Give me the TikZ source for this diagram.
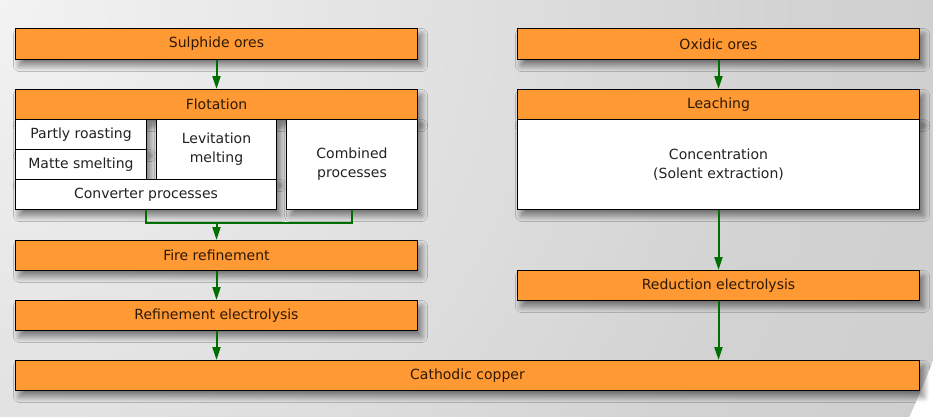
\documentclass[tikz,border=0pt]{standalone}
\usepackage{fontspec}
\setmainfont{DejaVu Sans}
\usetikzlibrary{shadows.blur,arrows.meta}
\definecolor{orng}{RGB}{255,153,51}
\definecolor{otxt}{RGB}{45,25,5}
\definecolor{wtxt}{RGB}{34,34,34}
\definecolor{grn}{RGB}{0,110,0}
\definecolor{bgA}{RGB}{243,243,243}
\definecolor{bgB}{RGB}{210,210,210}
\definecolor{bgC}{RGB}{194,194,194}
\pgfdeclareradialshading{bgshade}{\pgfpoint{0bp}{0bp}}{color(0bp)=(bgA); color(20bp)=(bgB); color(50bp)=(bgC)}
\tikzset{
  box/.style={draw=black, line width=1pt, inner sep=0pt, anchor=north west,
    font=\fontsize{14}{19}\selectfont, align=center,
    blur shadow={shadow xshift=4pt, shadow yshift=-6pt, shadow blur radius=6pt, shadow blur steps=12, shadow opacity=50}},
  obox/.style={box, fill=orng, text=otxt},
  wbox/.style={box, fill=white, text=wtxt},
  gline/.style={draw=grn, line width=2pt},
  garrow/.style={gline, -{Triangle[length=13pt,width=8pt]}},
}
\begin{document}
\begin{tikzpicture}[x=1pt,y=-1pt]
\begin{scope}
\clip (0,0) rectangle (933,416);
\shade[shading=bgshade] (0,0) circle (1000);
\end{scope}
\useasboundingbox (0,0) rectangle (933,416);

\node[obox, minimum width=402pt, minimum height=31pt] (sulph) at (15,28) {Sulphide ores};
\node[obox, minimum width=402pt, minimum height=30pt] (flot) at (15,89) {Flotation};
\node[wbox, minimum width=131pt, minimum height=30pt] (partly) at (15,119) {Partly roasting};
\node[wbox, minimum width=131pt, minimum height=30pt] (matte) at (15,149) {Matte smelting};
\node[wbox, minimum width=120pt, minimum height=60pt] (levit) at (156,119) {Levitation\\melting};
\node[wbox, minimum width=261pt, minimum height=30pt] (conv) at (15,179) {Converter processes};
\node[wbox, minimum width=131pt, minimum height=90pt] (comb) at (286,119) {Combined\\processes};
\node[obox, minimum width=402pt, minimum height=30pt] (fire) at (15,240) {Fire refinement};
\node[obox, minimum width=402pt, minimum height=30pt] (refel) at (15,300) {Refinement electrolysis};
\node[obox, minimum width=904pt, minimum height=30pt] (cath) at (15,360) {Cathodic copper};

\node[obox, minimum width=402pt, minimum height=31pt] (oxid) at (517,28) {Oxidic ores};
\node[obox, minimum width=402pt, minimum height=30pt] (leach) at (517,89) {Leaching};
\node[wbox, minimum width=402pt, minimum height=90pt] (conc) at (517,119) {Concentration\\(Solent extraction)};
\node[obox, minimum width=402pt, minimum height=30pt] (redel) at (517,270) {Reduction electrolysis};

\draw[garrow] (sulph.south) -- (flot.north);
\draw[gline] (conv.south) -- ++(0,13) -| (comb.south);
\coordinate (j) at ([yshift=-13pt]conv.south -| fire.north);
\draw[garrow] (j) -- (fire.north);
\draw[garrow] (fire.south) -- (refel.north);
\draw[garrow] (refel.south) -- (refel.south |- cath.north);

\draw[garrow] (oxid.south) -- (leach.north);
\draw[garrow] (conc.south) -- (redel.north);
\draw[garrow] (redel.south) -- (redel.south |- cath.north);
\end{tikzpicture}
\end{document}
